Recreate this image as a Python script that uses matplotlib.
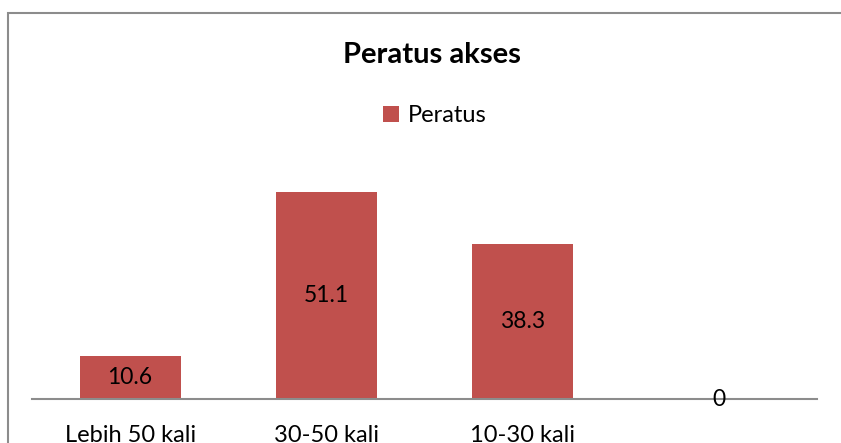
import matplotlib.pyplot as plt
from matplotlib.patches import Rectangle

# ── Data ───────────────────────────────────────────────────────
categories = ["Lebih 50 kali", "30-50 kali", "10-30 kali", ""]
peratus = [10.6, 51.1, 38.3, 0]
series_name = "Peratus"
title = "Peratus akses"

BAR_COLOR = "#C0504D"
AXIS_COLOR = "#8C8C8C"
W, H = 841, 443

plt.rcParams["font.family"] = ["Lato", "DejaVu Sans"]

fig = plt.figure(figsize=(W / 100, H / 100), dpi=100)

# outer chart border (bottom and right run off the image)
fig.patches.append(Rectangle((8 / W, -0.1), 1.0, (H - 13) / H + 0.1,
                             transform=fig.transFigure, fill=False,
                             edgecolor=AXIS_COLOR, linewidth=1.5))

ax = fig.add_axes([32 / W, 44 / H, (817 - 32) / W, 243 / H])
x = range(len(categories))
bars = ax.bar(x, peratus, width=0.515, color=BAR_COLOR, label=series_name)
ax.set_xlim(-0.5, len(categories) - 0.5)
ax.set_ylim(0, 60)

for xi, v in zip(x, peratus):
    ax.text(xi, v / 2, f"{v:g}", ha="center", va="center",
            fontsize=16.5, color="black")

for s in ["top", "right", "left"]:
    ax.spines[s].set_visible(False)
ax.spines["bottom"].set_color(AXIS_COLOR)
ax.spines["bottom"].set_linewidth(1.5)
ax.set_yticks([])
ax.set_xticks(list(x))
ax.set_xticklabels(categories, fontsize=17)
ax.tick_params(axis="x", length=0, pad=18.5)

fig.text(432 / W, 1 - 55 / H, title, ha="center", va="center",
         fontsize=21, fontweight="bold")

fig.legend(handles=[bars], loc="center", bbox_to_anchor=(435 / W, 1 - 116 / H),
           frameon=False, fontsize=17, handlelength=0.65, handleheight=0.65,
           handletextpad=0.4)

fig.savefig("out.png", dpi=100)
